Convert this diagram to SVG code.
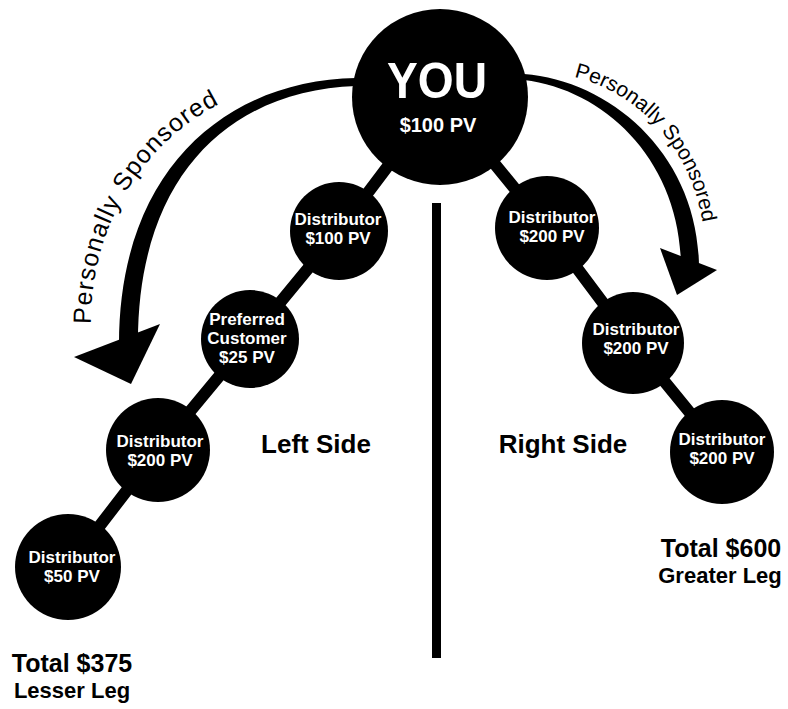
<svg xmlns="http://www.w3.org/2000/svg" width="788" height="709" viewBox="0 0 788 709">
<style>
.node{fill:#000}
.nt{font-family:"Liberation Sans",Arial,sans-serif;font-weight:bold;font-size:17px;fill:#fff;text-anchor:middle}
.big{font-size:50px}
.pv{font-size:20px}
.lbl{font-family:"Liberation Sans",Arial,sans-serif;font-weight:bold;fill:#000;text-anchor:middle}
.ps{font-family:"Liberation Sans",Arial,sans-serif;fill:#000}
.conn{stroke:#000;stroke-width:12;fill:none;stroke-linejoin:round}
</style>
<defs>
<path id="tpL" d="M91,324 C90,220 150,130 240,95"/>
<path id="tpR" d="M574,77 C630,90 690,140 703,225"/>
</defs>
<rect width="788" height="709" fill="#fff"/>
<g id="connectors">
<polyline class="conn" points="440,97 339,231 250,339 158,450 68,567"/>
<polyline class="conn" points="440,97 547,228 633,343 722,452"/>
<rect x="432" y="203" width="9" height="455" fill="#000"/>
</g>
<g id="arrow-left">
<path d="M356,78 C228,80 119,168 119,344 L138,344 C137,174 232,90 356,86 Z" fill="#000"/>
<polygon points="74,357 160,324 131,384" fill="#000"/>
<text class="ps" font-size="25"><textPath href="#tpL" textLength="268" lengthAdjust="spacing">Personally Sponsored</textPath></text>
</g>
<g id="arrow-right">
<path d="M524,74 C613,81 699,157 699,268 L681,268 C681,163 607,90 524,80 Z" fill="#000"/>
<polygon points="660,248 717,270 677,295" fill="#000"/>
<text class="ps" font-size="21"><textPath href="#tpR" textLength="206" lengthAdjust="spacing">Personally Sponsored</textPath></text>
</g>
<g id="you">
<circle class="node" cx="440" cy="97" r="88"/>
<text class="nt big" x="437" y="98" textLength="100" lengthAdjust="spacingAndGlyphs">YOU</text>
<text class="nt pv" x="438" y="132">$100 PV</text>
</g>
<g id="left1">
<circle class="node" cx="339" cy="231" r="49"/>
<text class="nt" x="338" y="225">Distributor</text>
<text class="nt" x="338" y="244">$100 PV</text>
</g>
<g id="left2">
<circle class="node" cx="250" cy="339" r="49"/>
<text class="nt" x="247" y="325">Preferred</text>
<text class="nt" x="247" y="344">Customer</text>
<text class="nt" x="247" y="363">$25 PV</text>
</g>
<g id="left3">
<circle class="node" cx="158" cy="450" r="52"/>
<text class="nt" x="160" y="447">Distributor</text>
<text class="nt" x="160" y="466">$200 PV</text>
</g>
<g id="left4">
<circle class="node" cx="68" cy="567" r="53"/>
<text class="nt" x="72" y="563">Distributor</text>
<text class="nt" x="72" y="582">$50 PV</text>
</g>
<g id="right1">
<circle class="node" cx="547" cy="228" r="52"/>
<text class="nt" x="552" y="223">Distributor</text>
<text class="nt" x="552" y="242">$200 PV</text>
</g>
<g id="right2">
<circle class="node" cx="633" cy="343" r="51"/>
<text class="nt" x="636" y="335">Distributor</text>
<text class="nt" x="636" y="354">$200 PV</text>
</g>
<g id="right3">
<circle class="node" cx="722" cy="452" r="52"/>
<text class="nt" x="722" y="445">Distributor</text>
<text class="nt" x="722" y="464">$200 PV</text>
</g>
<g id="labels">
<text class="lbl" x="316" y="453" font-size="26">Left Side</text>
<text class="lbl" x="563" y="453" font-size="26">Right Side</text>
<text class="lbl" x="72" y="672" font-size="25">Total $375</text>
<text class="lbl" x="72" y="698" font-size="22">Lesser Leg</text>
<text class="lbl" x="721" y="557" font-size="25">Total $600</text>
<text class="lbl" x="720" y="583" font-size="22">Greater Leg</text>
</g>
</svg>
